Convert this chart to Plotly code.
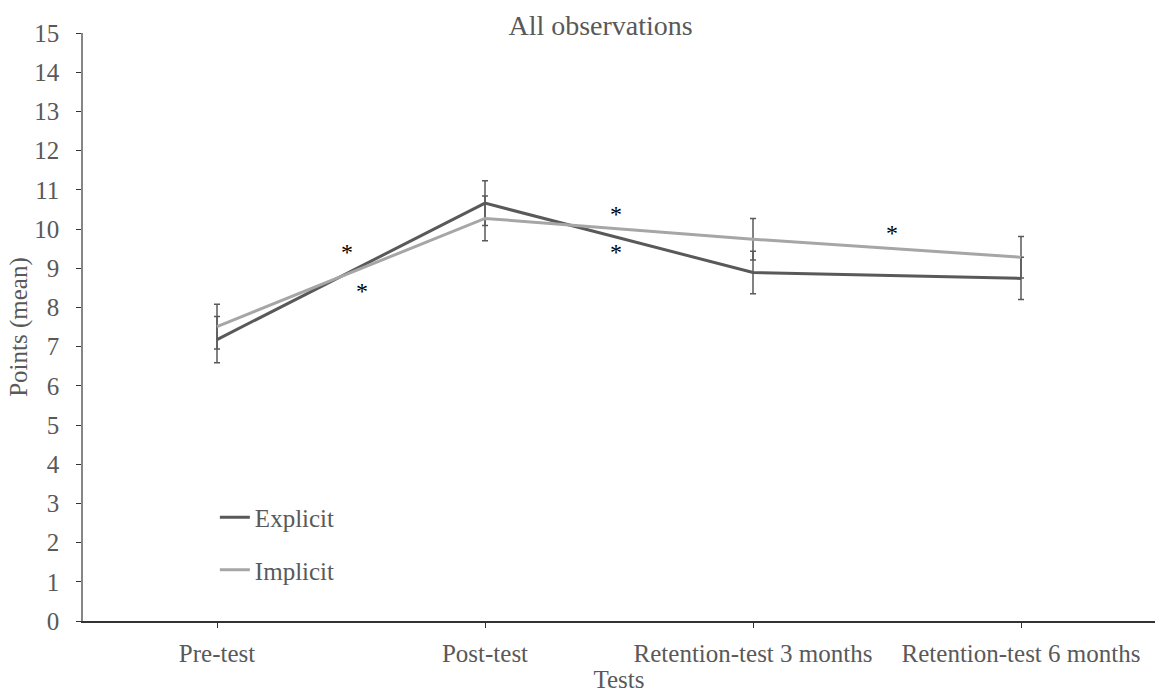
import plotly.graph_objects as go

# Mean points per test, with error bar half-widths
tests = ["Pre-test", "Post-test", "Retention-test 3 months", "Retention-test 6 months"]
explicit_mean = [7.18, 10.66, 8.89, 8.74]
explicit_err = [0.59, 0.57, 0.54, 0.54]
implicit_mean = [7.51, 10.27, 9.74, 9.28]
implicit_err = [0.57, 0.57, 0.53, 0.53]

# Significance markers (position along the test axis, height in points)
star_x = [0.485, 0.54, 1.49, 1.49, 2.52]
star_y = [9.42, 8.43, 10.39, 9.42, 9.91]

FONT = "Liberation Serif, Times New Roman, serif"
DARK = "#595959"
LIGHT = "#A6A6A6"

fig = go.Figure()
fig.add_trace(go.Scatter(
    x=tests, y=explicit_mean, mode="lines", name="Explicit",
    line=dict(color=DARK, width=3), legendgroup="e",
    error_y=dict(type="data", array=explicit_err, color=DARK, thickness=1.5, width=3),
))
fig.add_trace(go.Scatter(
    x=tests, y=implicit_mean, mode="lines", name="Implicit",
    line=dict(color=LIGHT, width=3), legendgroup="i",
    error_y=dict(type="data", array=implicit_err, color=DARK, thickness=1.5, width=3),
))

for sx, sy in zip(star_x, star_y):
    fig.add_annotation(x=sx, y=sy, xref="x", yref="y", text="*", showarrow=False,
                       font=dict(family=FONT, size=24, color="#000000"))

fig.update_layout(
    width=1155, height=693,
    margin=dict(l=83, r=0, t=33, b=72),
    paper_bgcolor="white", plot_bgcolor="white",
    font=dict(family=FONT, size=25, color=DARK),
    title=dict(text="All observations", x=0.52, xanchor="center", y=0.963, yanchor="middle",
               font=dict(family=FONT, size=28, color=DARK)),
    showlegend=True,
    legend=dict(x=0.123, y=0.215, xanchor="left", yanchor="top",
                bgcolor="rgba(0,0,0,0)", tracegroupgap=17,
                font=dict(family=FONT, size=25, color=DARK), itemwidth=30),
    xaxis=dict(
        type="category", range=[-0.5, 3.5], showgrid=False, zeroline=False,
        showline=True, linecolor="#333333", linewidth=1.5,
        ticks="outside", ticklen=5, tickcolor="#333333",
        tickfont=dict(family=FONT, size=25, color=DARK),
        ticklabelstandoff=4,
        title=dict(text="Tests", font=dict(family=FONT, size=25, color=DARK), standoff=0),
    ),
    yaxis=dict(
        range=[0, 15], dtick=1, showgrid=False, zeroline=False,
        showline=True, linecolor="#868686", linewidth=1.5,
        ticks="outside", ticklen=5, tickcolor="#333333",
        tickfont=dict(family=FONT, size=25, color=DARK),
        ticklabelstandoff=12,
        title=dict(text="Points (mean)", font=dict(family=FONT, size=25, color=DARK), standoff=0),
    ),
)

fig.write_html("out.html")
